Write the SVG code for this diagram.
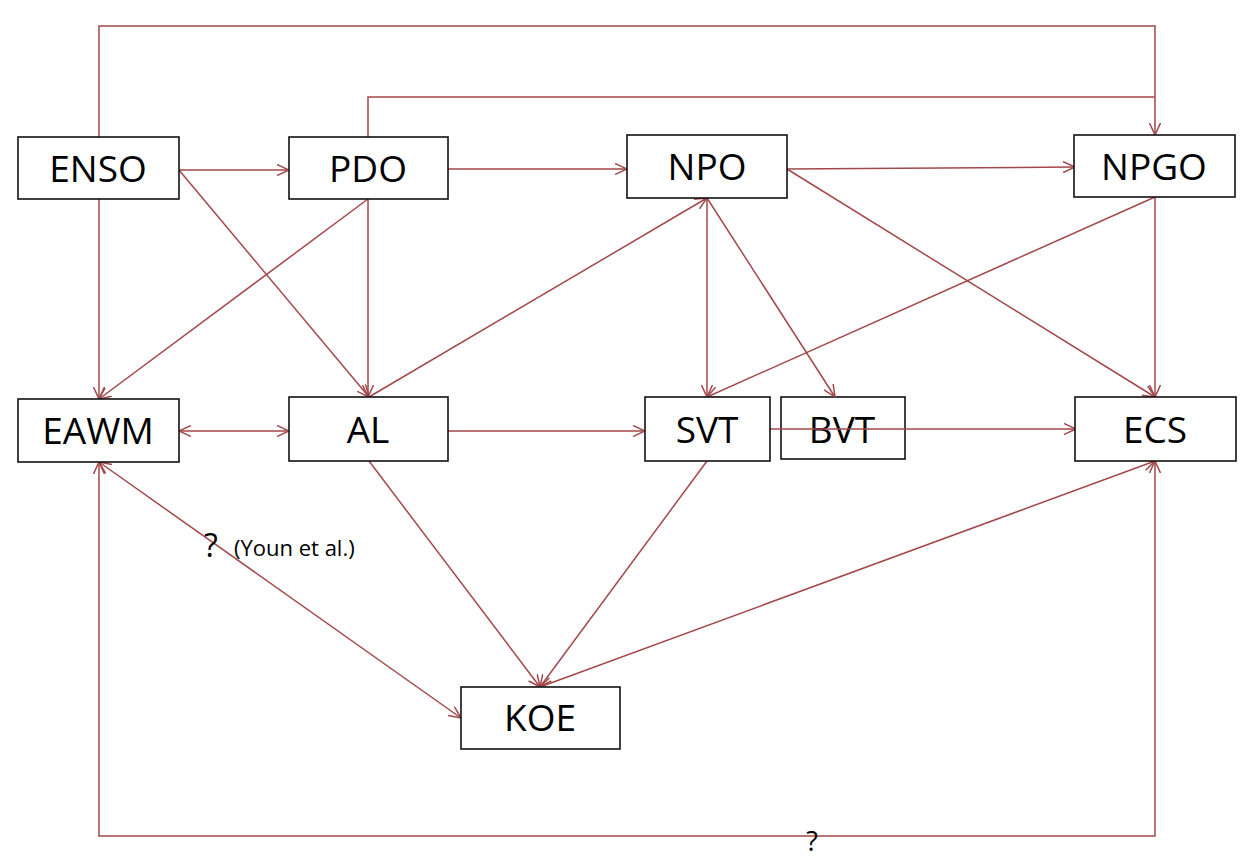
<svg xmlns="http://www.w3.org/2000/svg" width="1251" height="860" viewBox="0 0 1251 860">
<style>
.box{fill:#fff;stroke:#111;stroke-width:1.6}
.lbl{font-family:"Open Sans","Noto Sans",sans-serif;font-size:37px;fill:#000;text-anchor:middle}
.edge{fill:none;stroke:#a3484a;stroke-width:1.5}
.note{font-family:"Open Sans","Noto Sans",sans-serif;fill:#000}
</style>
<defs>
<marker id="ah" viewBox="0 0 12 12" refX="12" refY="6" markerWidth="12" markerHeight="12" markerUnits="userSpaceOnUse" orient="auto-start-reverse">
<path d="M0,0.5 L12,6 L0,11.5" fill="none" stroke="#a3484a" stroke-width="1.5"/>
</marker>
</defs>
<rect width="1251" height="860" fill="#fff"/>
<g id="BVT"><rect class="box" x="781" y="397" width="124" height="62"/><text class="lbl" x="842" y="443">BVT</text></g>
<g id="connectors">
<path class="edge" d="M99,137 V26 H1155 V135" marker-end="url(#ah)"/>
<path class="edge" d="M368,137 V97 H1155"/>
<path class="edge" d="M179,170 L289,170" marker-end="url(#ah)"/>
<path class="edge" d="M179,170 L369,397" marker-end="url(#ah)"/>
<path class="edge" d="M99,199 L99,399" marker-end="url(#ah)"/>
<path class="edge" d="M368,199 L99,399" marker-end="url(#ah)"/>
<path class="edge" d="M368,199 L368,397" marker-end="url(#ah)"/>
<path class="edge" d="M448,169 L627,169" marker-end="url(#ah)"/>
<path class="edge" d="M787,169 L1075,167" marker-end="url(#ah)"/>
<path class="edge" d="M787,169 L1155,397" marker-end="url(#ah)"/>
<path class="edge" d="M707,198 L707,397" marker-end="url(#ah)"/>
<path class="edge" d="M707,198 L835,397" marker-end="url(#ah)"/>
<path class="edge" d="M369,397 L707,198" marker-end="url(#ah)"/>
<path class="edge" d="M1155,197 L707,397" marker-end="url(#ah)"/>
<path class="edge" d="M1155,197 L1155,397" marker-end="url(#ah)"/>
<path class="edge" d="M179,431 L289,431" marker-start="url(#ah)" marker-end="url(#ah)"/>
<path class="edge" d="M448,431 L645,431" marker-end="url(#ah)"/>
<path class="edge" d="M770,429 L1076,429" marker-end="url(#ah)"/>
<path class="edge" d="M369,461 L540,687" marker-end="url(#ah)"/>
<path class="edge" d="M707,461 L540,687" marker-end="url(#ah)"/>
<path class="edge" d="M1155,461 L540,687" marker-start="url(#ah)" marker-end="url(#ah)"/>
<path class="edge" d="M99,462 L461,718" marker-start="url(#ah)" marker-end="url(#ah)"/>
<path class="edge" d="M99,462 V836 H1155 V461" marker-start="url(#ah)" marker-end="url(#ah)"/>
</g>
<g id="ENSO"><rect class="box" x="18" y="137" width="161" height="62"/><text class="lbl" x="98" y="182">ENSO</text></g>
<g id="PDO"><rect class="box" x="289" y="137" width="159" height="62"/><text class="lbl" x="368" y="182">PDO</text></g>
<g id="NPO"><rect class="box" x="627" y="135" width="160" height="63"/><text class="lbl" x="707" y="180">NPO</text></g>
<g id="NPGO"><rect class="box" x="1074" y="135" width="161" height="62"/><text class="lbl" x="1154" y="180">NPGO</text></g>
<g id="EAWM"><rect class="box" x="18" y="399" width="161" height="63"/><text class="lbl" x="98" y="444">EAWM</text></g>
<g id="AL"><rect class="box" x="289" y="397" width="159" height="64"/><text class="lbl" x="368" y="443">AL</text></g>
<g id="SVT"><rect class="box" x="645" y="397" width="125" height="64"/><text class="lbl" x="707" y="443">SVT</text></g>
<g id="ECS"><rect class="box" x="1075" y="397" width="161" height="64"/><text class="lbl" x="1155" y="443">ECS</text></g>
<g id="KOE"><rect class="box" x="461" y="687" width="159" height="62"/><text class="lbl" x="540" y="731">KOE</text></g>
<text class="note" x="211" y="557" font-size="32" text-anchor="middle">?</text>
<text class="note" x="234" y="556" font-size="22">(Youn et al.)</text>
<text class="note" x="812" y="851" font-size="27" text-anchor="middle">?</text>
</svg>
